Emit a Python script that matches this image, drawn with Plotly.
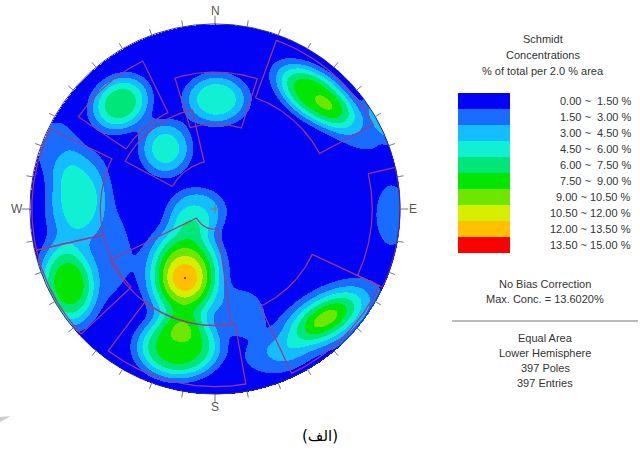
import numpy as np
import plotly.graph_objects as go

# ---------------- data ----------------
# contour classes (% of total per 2.0 % area)
band_labels = ["0.00 ~  1.50 %", "1.50 ~  3.00 %", "3.00 ~  4.50 %", "4.50 ~  6.00 %",
               "6.00 ~  7.50 %", "7.50 ~  9.00 %", "9.00 ~ 10.50 %", "10.50 ~ 12.00 %",
               "12.00 ~ 13.50 %", "13.50 ~ 15.00 %"]
band_colors = ["#0202f4", "#1a6bff", "#14bdff", "#12f0d4", "#00e678",
               "#02e602", "#6ee600", "#d6ee00", "#ffc000", "#ff0000"]
band_step = 1.5

# pole-concentration clusters (unit-circle coords, x=E, y=N)
clus_x     = [-0.514, 0.005, -0.270, 0.535, 0.905, 0.950, -0.750, -0.805, -0.165, -0.165, -0.100, -0.200, 0.150, 0.595, -0.600, -0.860, 0.760, 0.300]
clus_y     = [0.573, 0.595, 0.330, 0.616, 0.500, -0.030, 0.070, -0.410, -0.355, -0.372, -0.010, -0.745, -0.560, -0.590, -0.230, 0.330, 0.440, -0.800]
clus_peak  = [7.0, 5.6, 5.2, 8.8, 3.6, 2.6, 5.0, 8.2, 10.6, 2.92, 4.2, 8.4, 2.6, 9.8, 2.2, 2.2, 2.2, 2.0]
clus_rx    = [0.190, 0.190, 0.150, 0.280, 0.150, 0.080, 0.165, 0.170, 0.243, 0.079, 0.160, 0.260, 0.105, 0.335, 0.130, 0.100, 0.150, 0.120]
clus_ry    = [0.160, 0.150, 0.160, 0.150, 0.060, 0.160, 0.260, 0.260, 0.320, 0.079, 0.130, 0.195, 0.115, 0.165, 0.230, 0.140, 0.090, 0.070]
clus_angle = [35, 0, 0, -35, 118, 0, -15, 10, 0, 0, 0, 0, 0, 30, 0, 0, -35, 0]
clus_shape = [3.0, 3.0, 3.0, 3.0, 3.0, 3.0, 3.0, 3.0, 3.0, 2.0, 3.0, 3.5, 3.0, 2.0, 3.0, 3.0, 3.0, 3.0]

# set windows: azimuth range (deg, clockwise from N) and radial range (unit circle)
win_az1 = [304, 343, 298, 20, 77, 115, 257, 172, 170, 227]
win_az2 = [334, 378, 347, 62, 115, 155, 296, 244, 217, 257]
win_r1  = [0.58, 0.46, 0.26, 0.64, 0.85, 0.58, 0.62, 0.11, 0.63, 0.62]
win_r2  = [0.89, 0.74, 0.55, 0.97, 1.00, 0.98, 0.99, 0.63, 0.96, 0.99]

compass_labels = ["N", "E", "S", "W"]
compass_az = [0, 90, 180, 270]
tick_az = list(range(0, 360, 10))

title_lines = ["Schmidt", "Concentrations", "% of total per 2.0 % area"]
info_lines1 = ["No Bias Correction", "Max. Conc. = 13.6020%"]
info_lines2 = ["Equal Area", "Lower Hemisphere", "397 Poles", "397 Entries"]
caption = "(الف)"

# ---------------- geometry / layout ----------------
W, H = 640, 455
ML, MR, MT, MB = 11, 221, 5, 42
PW, PH = W - ML - MR, H - MT - MB
RNG = 204 / 185.0


def px2paper(px, py):
    return (px - ML) / PW, (H - MB - py) / PH


# density field
N = 371
gx = np.linspace(-1, 1, N)
GX, GY = np.meshgrid(gx, gx)
Z = np.zeros_like(GX)
for bx, by, a, rx, ry, ang, q in zip(clus_x, clus_y, clus_peak, clus_rx, clus_ry, clus_angle, clus_shape):
    k = np.log(a / 1.5) ** (1.0 / q)
    sx, sy = rx / k, ry / k
    t = np.radians(ang)
    dx, dy = GX - bx, GY - by
    u = dx * np.cos(t) + dy * np.sin(t)
    v = -dx * np.sin(t) + dy * np.cos(t)
    rho2 = (u / sx) ** 2 + (v / sy) ** 2
    Z += a * np.exp(-rho2 ** (q / 2.0))
idx = np.clip(np.floor(Z / band_step), 0, len(band_colors) - 1)
idx[GX ** 2 + GY ** 2 > 1.0] = np.nan

cs = []
nb = len(band_colors)
for i, c in enumerate(band_colors):
    cs.append([i / nb, c])
    cs.append([(i + 1) / nb, c])

fig = go.Figure()
fig.add_trace(go.Heatmap(x=gx, y=gx, z=idx, colorscale=cs, zmin=-0.5, zmax=nb - 0.5,
                         showscale=False, hoverinfo="skip", zsmooth=False))

# set windows
wx, wy = [], []
for a1, a2, r1, r2 in zip(win_az1, win_az2, win_r1, win_r2):
    aa = np.radians(np.linspace(a1, a2, 60))
    xs = list(r1 * np.sin(aa)) + list(r2 * np.sin(aa[::-1])) + [r1 * np.sin(aa[0])]
    ys = list(r1 * np.cos(aa)) + list(r2 * np.cos(aa[::-1])) + [r1 * np.cos(aa[0])]
    wx += xs + [None]
    wy += ys + [None]
fig.add_trace(go.Scatter(x=wx, y=wy, mode="lines", line=dict(color="#a03a80", width=1.2),
                         hoverinfo="skip", showlegend=False))

# primitive circle
th = np.radians(np.linspace(0, 360, 361))
fig.add_trace(go.Scatter(x=np.sin(th), y=np.cos(th), mode="lines",
                         line=dict(color="#2828a0", width=1), hoverinfo="skip", showlegend=False))

# ticks
tx, ty = [], []
for az in tick_az:
    a = np.radians(az)
    r_out = 1.045 if az in compass_az else 1.035
    tx += [1.0 * np.sin(a), r_out * np.sin(a), None]
    ty += [1.0 * np.cos(a), r_out * np.cos(a), None]
# centre cross
c = 0.025
tx += [-c, c, None, 0, 0, None]
ty += [0, 0, None, -c, c, None]
fig.add_trace(go.Scatter(x=tx, y=ty, mode="lines", line=dict(color="#777777", width=1),
                         hoverinfo="skip", showlegend=False))

ann = []
for lab, az in zip(compass_labels, compass_az):
    a = np.radians(az)
    rr = 1.068
    ann.append(dict(x=rr * np.sin(a), y=rr * np.cos(a), xref="x", yref="y", text=lab,
                    showarrow=False, font=dict(family="Liberation Sans, Arial", size=12, color="#555555"),
                    xanchor="center", yanchor="middle"))

font = dict(family="Liberation Sans, Arial", size=11, color="#333333")
for i, t in enumerate(title_lines):
    x, y = px2paper(543, 39 + 16 * i)
    ann.append(dict(x=x, y=y, xref="paper", yref="paper", text=t, showarrow=False, font=font,
                    xanchor="center", yanchor="middle"))
shapes = []
for i, (lab, col) in enumerate(zip(band_labels, band_colors)):
    x0, y0 = px2paper(458, 93 + 16 * i)
    x1, y1 = px2paper(510, 93 + 16 * (i + 1))
    shapes.append(dict(type="rect", xref="paper", yref="paper", x0=x0, x1=x1, y0=y1, y1=y0,
                       fillcolor=col, line=dict(width=0)))
    x, y = px2paper(633, 101 + 16 * i)
    ann.append(dict(x=x, y=y, xref="paper", yref="paper", text=lab, showarrow=False, font=font,
                    xanchor="right", yanchor="middle"))
for i, t in enumerate(info_lines1):
    x, y = px2paper(545, 284 + 15 * i)
    ann.append(dict(x=x, y=y, xref="paper", yref="paper", text=t, showarrow=False, font=font,
                    xanchor="center", yanchor="middle"))
for i, t in enumerate(info_lines2):
    x, y = px2paper(545, 338 + 15 * i)
    ann.append(dict(x=x, y=y, xref="paper", yref="paper", text=t, showarrow=False, font=font,
                    xanchor="center", yanchor="middle"))
lx0, ly = px2paper(452, 321)
lx1, _ = px2paper(638, 321)
shapes.append(dict(type="line", xref="paper", yref="paper", x0=lx0, x1=lx1, y0=ly, y1=ly,
                   line=dict(color="#777777", width=1)))
x, y = px2paper(320, 436)
ann.append(dict(x=x, y=y, xref="paper", yref="paper", text=caption, showarrow=False,
                font=dict(family="DejaVu Sans, Noto Sans", size=15, color="#000000"),
                xanchor="center", yanchor="middle"))
# small grey artefact at lower left
gxa, gya = px2paper(0, 417)
gxb, gyb = px2paper(11, 416)
gxc, gyc = px2paper(0, 422)
shapes.append(dict(type="path", xref="paper", yref="paper",
                   path=f"M {gxa} {gya} L {gxb} {gyb} L {gxc} {gyc} Z",
                   fillcolor="#cccccc", line=dict(width=0)))

fig.update_layout(width=W, height=H, margin=dict(l=ML, r=MR, t=MT, b=MB),
                  paper_bgcolor="white", plot_bgcolor="white", showlegend=False,
                  xaxis=dict(range=[-RNG, RNG], visible=False, fixedrange=True),
                  yaxis=dict(range=[-RNG, RNG], visible=False, fixedrange=True),
                  annotations=ann, shapes=shapes)
fig.write_html("out.html", config={"displayModeBar": False},
               post_script="document.body.style.margin='0px';document.body.style.overflow='hidden';")
